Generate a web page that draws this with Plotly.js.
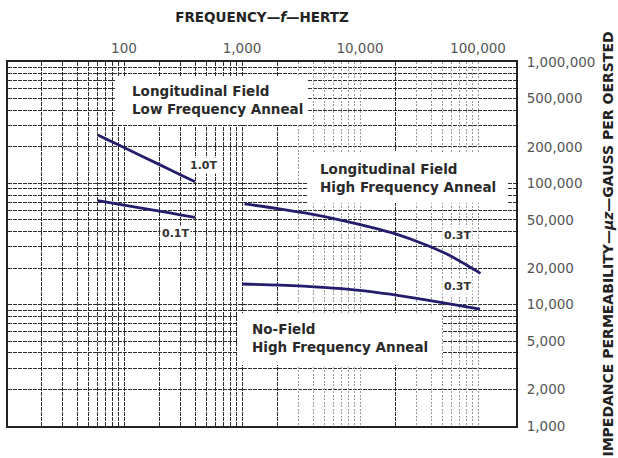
<!DOCTYPE html>
<html>
<head>
<meta charset="utf-8">
<script src="https://cdn.plot.ly/plotly-3.0.1.min.js"></script>
<style>html,body{margin:0;padding:0;background:#fff;}#chart{width:618px;height:458px;}</style>
</head>
<body>
<div id="chart"></div>
<script>
// ---- data ----
const freqLowAnneal = [60, 100, 200, 300, 400];
const muLowAnneal10T = [250000, 197000, 142600, 117800, 103000];
const muLowAnneal01T = [72000, 66000, 59000, 55000, 52500];

const freqHighAnneal = [1050, 2000, 3500, 7000, 13000, 20000, 35000, 55000, 80000, 105000];
const muHighAnneal03T = [67600, 62000, 56700, 49600, 43000, 38300, 31500, 26000, 21200, 18100];

const freqNoField = [1000, 2100, 4900, 9400, 18000, 34000, 66000, 104000];
const muNoField03T = [14800, 14500, 13900, 13200, 12200, 11060, 9930, 9170];

const freqTickVals = [100, 1000, 10000, 100000];
const freqTickText = ['100', '1,000', '10,000', '100,000'];
const muTickVals = [1000, 2000, 5000, 10000, 20000, 50000, 100000, 200000, 500000, 1000000];
const muTickText = ['1,000', '2,000', '5,000', '10,000', '20,000', '50,000', '100,000', '200,000', '500,000', '1,000,000'];

const curveLabels = ['1.0T', '0.1T', '0.3T', '0.3T'];
const regionLabels = ['Longitudinal Field<br>Low Frequency Anneal', 'Longitudinal Field<br>High Frequency Anneal', 'No-Field<br>High Frequency Anneal'];

// grid line positions (graph-paper style)
const darkFreqGrid = [20, 30, 40, 50, 60, 70, 80, 90, 100, 200, 300, 400, 500, 600, 700, 800, 900, 1000, 2000, 20000];
const lightFreqGrid = [3000, 4000, 5000, 6000, 7000, 8000, 9000, 10000, 30000, 40000, 50000, 60000, 70000, 80000, 90000, 100000];
const muGrid = [1000, 2000, 3000, 4000, 5000, 6000, 7000, 8000, 9000,
  10000, 20000, 30000, 40000, 50000, 60000, 70000, 80000, 90000,
  100000, 200000, 300000, 400000, 500000, 600000, 700000, 800000, 900000, 1000000];

// ---- chart ----
const FONT = 'DejaVu Sans, Verdana, sans-serif';
const curveColor = '#241d6c';
const xRange = [1.017, 5.322];

function lineTrace(x, y) {
  return {x: x, y: y, type: 'scatter', mode: 'lines', xaxis: 'x', yaxis: 'y',
    line: {color: curveColor, width: 2.8, shape: 'spline', smoothing: 0.8},
    hoverinfo: 'skip', showlegend: false};
}

const traces = [
  lineTrace(freqLowAnneal, muLowAnneal10T),
  lineTrace(freqLowAnneal, muLowAnneal01T),
  lineTrace(freqHighAnneal, muHighAnneal03T),
  lineTrace(freqNoField, muNoField03T),
  {x: [], y: [], type: 'scatter', xaxis: 'x2', yaxis: 'y', showlegend: false, hoverinfo: 'skip'}
];

const muTickTextFull = muGrid.map(v => {
  const i = muTickVals.indexOf(v);
  return i >= 0 ? muTickText[i] : '';
});

const gridDark = '#2e2e2e';
const gridDash = '4px,1px';

function box(x0, x1, y0, y1) {
  return {type: 'rect', xref: 'paper', yref: 'paper', x0: x0, x1: x1, y0: y0, y1: y1,
    fillcolor: '#ffffff', line: {width: 0}, layer: 'above'};
}
function smallLabel(x, y, t) {
  return {xref: 'paper', yref: 'paper', x: x, y: y, xanchor: 'center', yanchor: 'middle', showarrow: false,
    text: t, bgcolor: '#ffffff', borderpad: 1,
    font: {family: FONT, size: 11, color: '#333333', weight: 'bold'}};
}
function regionLabel(x, y, t) {
  return {xref: 'paper', yref: 'paper', x: x, y: y, xanchor: 'left', yanchor: 'middle', align: 'left', showarrow: false,
    text: t, font: {family: FONT, size: 13.5, color: '#2a2a2a', weight: 'bold'}};
}

const layout = {
  width: 618, height: 458,
  margin: {l: 8, r: 102, t: 62, b: 32},
  paper_bgcolor: '#ffffff', plot_bgcolor: '#ffffff',
  font: {family: FONT, color: '#555555', size: 13.5},
  showlegend: false,
  hovermode: false,
  xaxis: {
    type: 'log', range: xRange, side: 'top',
    tickmode: 'array', tickvals: freqTickVals, ticktext: freqTickText,
    ticks: '', ticklabelstandoff: 2,
    tickfont: {family: FONT, size: 13.5, color: '#555555'},
    showgrid: false, zeroline: false,
    minor: {tickmode: 'array', tickvals: darkFreqGrid, showgrid: true, gridcolor: gridDark, gridwidth: 1, griddash: gridDash, ticks: ''},
    showline: true, mirror: true, linecolor: '#222222', linewidth: 2,
    title: {text: 'FREQUENCY—<i>f</i>—HERTZ', standoff: 14, font: {family: FONT, size: 13.5, color: '#222222', weight: 'bold'}},
    automargin: false
  },
  xaxis2: {
    type: 'log', range: xRange, overlaying: 'x', side: 'top',
    tickmode: 'array', tickvals: lightFreqGrid, showticklabels: false, ticks: '',
    showgrid: true, gridcolor: '#999999', gridwidth: 1, griddash: '2px,1.5px',
    zeroline: false, showline: false, automargin: false
  },
  yaxis: {
    type: 'log', range: [3, 6], side: 'right',
    tickmode: 'array', tickvals: muGrid, ticktext: muTickTextFull,
    ticks: '', ticklabelstandoff: 6,
    tickfont: {family: FONT, size: 13.5, color: '#555555'},
    showgrid: true, gridcolor: gridDark, gridwidth: 1, griddash: gridDash,
    zeroline: false,
    showline: true, mirror: true, linecolor: '#222222', linewidth: 2,
    title: {text: 'IMPEDANCE PERMEABILITY—<i>μz</i>—GAUSS PER OERSTED', standoff: 9, font: {family: FONT, size: 14, color: '#222222', weight: 'bold'}},
    automargin: false
  },
  shapes: [
    box(0.2106, 0.5906, 0.8269, 0.9615),
    box(0.5886, 0.9843, 0.6126, 0.7527),
    box(0.4528, 0.8543, 0.1676, 0.3104)
  ],
  annotations: [
    regionLabel(0.2402, 0.8956, regionLabels[0]),
    regionLabel(0.6102, 0.6813, regionLabels[1]),
    regionLabel(0.4764, 0.2418, regionLabels[2]),
    smallLabel(0.3839, 0.717, curveLabels[0]),
    smallLabel(0.3307, 0.5275, curveLabels[1]),
    smallLabel(0.8848, 0.522, curveLabels[2]),
    smallLabel(0.8848, 0.3819, curveLabels[3])
  ]
};

Plotly.newPlot('chart', traces, layout, {staticPlot: true, displayModeBar: false});
</script>
</body>
</html>
